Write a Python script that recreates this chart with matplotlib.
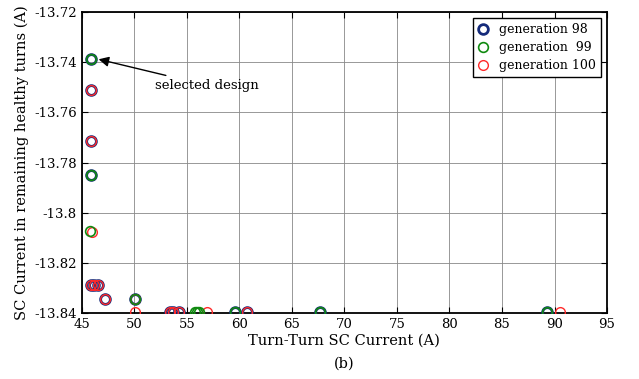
import matplotlib
matplotlib.use('Agg')
import matplotlib.pyplot as plt

# generation 98
g98_x = [45.85, 45.85, 45.85, 45.85, 45.9, 46.2, 46.5, 47.2, 50.1, 53.4, 53.7, 54.3, 59.6, 60.7, 67.7, 89.3]
g98_y = [-13.7385, -13.7512, -13.7712, -13.7848, -13.8288, -13.8288, -13.8288, -13.8344, -13.8344,
         -13.8396, -13.8396, -13.8396, -13.8396, -13.8396, -13.8396, -13.8396]
# generation 99
g99_x = [45.85, 45.85, 45.8, 50.1, 55.8, 56.0, 56.2, 59.6, 67.7, 89.3]
g99_y = [-13.7385, -13.7848, -13.8074, -13.8344, -13.8396, -13.8396, -13.8396, -13.8396, -13.8396, -13.8396]
# generation 100
g100_x = [45.85, 45.85, 45.95, 45.9, 46.2, 46.5, 47.2, 50.1, 50.1, 53.4, 53.7, 54.3, 56.9, 60.7, 90.5]
g100_y = [-13.7512, -13.7712, -13.8078, -13.8288, -13.8288, -13.8288, -13.8344, -13.8344, -13.8396,
          -13.8396, -13.8396, -13.8396, -13.8396, -13.8396, -13.8396]

plt.rcParams['font.family'] = 'DejaVu Serif'

fig = plt.figure(figsize=(6.39, 3.79), dpi=100)
ax = fig.add_axes([0.128, 0.174, 0.822, 0.794])

ax.plot(g98_x, g98_y, 'o', mfc='none', mec='#142a7a', mew=2.0, ms=7, label='generation 98', zorder=3)
ax.plot(g100_x, g100_y, 'o', mfc='none', mec='#ff2a2a', mew=1.0, ms=7, label='generation 100', zorder=4)
ax.plot(g99_x, g99_y, 'o', mfc='none', mec='#108a10', mew=1.2, ms=7, label='generation  99', zorder=5)

ax.annotate('selected design', xy=(46.6, -13.7388), xytext=(52.0, -13.7492),
            fontsize=9.5, va='center', ha='left',
            arrowprops=dict(arrowstyle='-|>', color='black', lw=1.0, mutation_scale=15,
                            shrinkA=2, shrinkB=0))

ax.set_xlim(45, 95)
ax.set_ylim(-13.84, -13.72)
ax.set_xticks(range(45, 96, 5))
ax.set_yticks([-13.84, -13.82, -13.8, -13.78, -13.76, -13.74, -13.72])
ax.set_yticklabels(['-13.84', '-13.82', '-13.8', '-13.78', '-13.76', '-13.74', '-13.72'])
ax.tick_params(direction='in', top=True, right=True, labelsize=9.5, length=4)
ax.grid(True, color='#888888', lw=0.6)
for s in ax.spines.values():
    s.set_linewidth(1.3)

ax.set_xlabel('Turn-Turn SC Current (A)', fontsize=10.5, labelpad=2)
ax.set_ylabel('SC Current in remaining healthy turns (A)', fontsize=10.5, labelpad=4)
fig.text(0.5 * (0.128 + 0.95), 0.04, '(b)', ha='center', va='center', fontsize=10.5)

h, l = ax.get_legend_handles_labels()
order = [0, 2, 1]
leg = ax.legend([h[i] for i in order], [l[i] for i in order], loc='upper right', fontsize=9,
                fancybox=False, framealpha=1, edgecolor='black', borderaxespad=0.5,
                handlelength=0.8, handletextpad=0.9, borderpad=0.4, labelspacing=0.4)
leg.get_frame().set_linewidth(1.0)

fig.savefig('out.png', dpi=100)
